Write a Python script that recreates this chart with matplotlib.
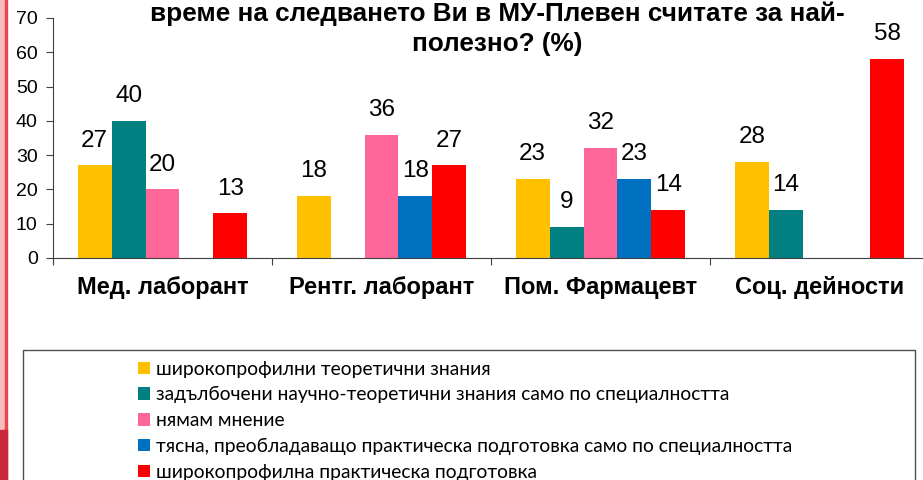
import matplotlib
matplotlib.use('Agg')
import matplotlib.pyplot as plt
import numpy as np
from matplotlib.patches import Rectangle

categories = ['Мед. лаборант', 'Рентг. лаборант', 'Пом. Фармацевт', 'Соц. дейности']
series_names = [
    'широкопрофилни теоретични знания',
    'задълбочени научно-теоретични знания само по специалността',
    'нямам мнение',
    'тясна, преобладаващо практическа подготовка само по специалността',
    'широкопрофилна практическа подготовка',
]
nan = np.nan
broad_theory = [27, 18, 23, 28]
deep_theory = [40, nan, 9, 14]
no_opinion = [20, 36, 32, nan]
narrow_practice = [nan, 18, 23, nan]
broad_practice = [13, 27, 14, 58]
colors = ['#FFC000', '#008080', '#FF6699', '#0070C0', '#FF0000']

title = 'време на следването Ви в МУ-Плевен считате за най-\nполезно? (%)'

W, H = 923, 480
fig = plt.figure(figsize=(W / 100, H / 100), dpi=100)

# decorative stripe on the left edge
fig.patches.append(Rectangle((0, 0), 6 / W, 1, transform=fig.transFigure, color='#F7BCBC', zorder=0))
fig.patches.append(Rectangle((5 / W, 0), 2 / W, 1, transform=fig.transFigure, color='#E8474B', zorder=0))
fig.patches.append(Rectangle((0, 0), 7 / W, 50 / H, transform=fig.transFigure, color='#C8283A', zorder=0))

ax = fig.add_axes([53 / W, (H - 258) / H, 876 / W, 240 / H])

all_series = [broad_theory, deep_theory, no_opinion, narrow_practice, broad_practice]
x = np.arange(len(categories))
w = 0.1548
handles = []
for i, (vals, col) in enumerate(zip(all_series, colors)):
    vals = np.array(vals, dtype=float)
    b = ax.bar(x + (i - 2) * w, vals, width=w, color=col, label=series_names[i])
    handles.append(b)
    for xi, v in zip(x + (i - 2) * w, vals):
        if not np.isnan(v):
            ax.annotate('%d' % v, (xi, v), xytext=(0, 10), textcoords='offset points',
                        ha='center', va='bottom', fontsize=17.5, family='Liberation Sans')

ax.set_xlim(-0.5, 3.5)
ax.set_ylim(0, 70)
ax.set_yticks(range(0, 71, 10))
ax.set_xticks(np.arange(-0.5, 4, 1))
ax.set_xticklabels([])
ax.set_xticks(x, minor=True)
ax.set_xticklabels(categories, minor=True, fontsize=17, fontweight='bold', family='Liberation Sans')
ax.tick_params(axis='x', which='minor', length=0, pad=13)
ax.tick_params(axis='x', which='major', length=5, direction='out', color='#404040')
ax.tick_params(axis='y', length=5, direction='out', color='#404040', labelsize=14, pad=6)
for lab in ax.get_yticklabels():
    lab.set_family('Liberation Sans')
for s in ['top', 'right']:
    ax.spines[s].set_visible(False)
for s in ['left', 'bottom']:
    ax.spines[s].set_color('#404040')

fig.text(497 / W, 1 - 1 / H, title, ha='center', va='top', fontsize=18.8, fontweight='bold',
         family='Liberation Sans', linespacing=1.35)

# legend box (cut at the bottom edge)
fig.patches.append(Rectangle((23 / W, -0.1), (915 - 23) / W, (H - 350) / H + 0.1,
                             transform=fig.transFigure, fill=False, edgecolor='#505050', lw=1))
fig.legend(handles=handles, loc='upper left', bbox_to_anchor=(128 / W, (H - 351) / H),
           frameon=False, prop={'family': ['Lato', 'Open Sans', 'DejaVu Sans'], 'size': 13.9},
           handlelength=0.62, handleheight=0.62, handletextpad=0.32, labelspacing=0.45,
           borderpad=0)

fig.savefig('out.png', dpi=100)
